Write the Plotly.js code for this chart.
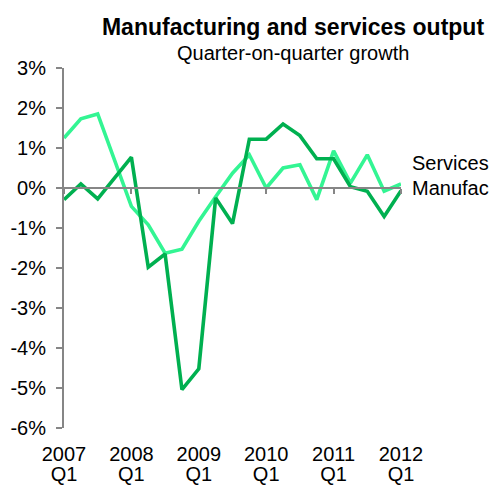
<!DOCTYPE html>
<html>
<head>
<meta charset="utf-8">
<script src="https://cdn.plot.ly/plotly-3.0.1.min.js"></script>
<style>html,body{margin:0;padding:0;background:#fff;}#chart{width:497px;height:486px;}</style>
</head>
<body>
<div id="chart"></div>
<script>
var quarters = ['2007 Q1','2007 Q2','2007 Q3','2007 Q4','2008 Q1','2008 Q2','2008 Q3','2008 Q4',
  '2009 Q1','2009 Q2','2009 Q3','2009 Q4','2010 Q1','2010 Q2','2010 Q3','2010 Q4',
  '2011 Q1','2011 Q2','2011 Q3','2011 Q4','2012 Q1'];
var manufacturing = [-0.29, 0.10, -0.27, 0.25, 0.77, -1.98, -1.65, -5.04, -4.52, -0.25, -0.89,
  1.22, 1.22, 1.60, 1.31, 0.73, 0.73, 0.03, -0.08, -0.71, -0.07];
var services = [1.25, 1.73, 1.85, 0.72, -0.46, -0.92, -1.63, -1.53, -0.83, -0.22, 0.37,
  0.83, 0.00, 0.50, 0.58, -0.29, 0.93, 0.12, 0.83, -0.08, 0.10];
var tickQuarters = ['2007 Q1','2008 Q1','2009 Q1','2010 Q1','2011 Q1','2012 Q1'];
var tickYearText = ['2007','2008','2009','2010','2011','2012'];
var tickQText = ['Q1','Q1','Q1','Q1','Q1','Q1'];
var yTickVals = [-6,-5,-4,-3,-2,-1,0,1,2,3];
var yTickText = ['-6%','-5%','-4%','-3%','-2%','-1%','0%','1%','2%','3%'];

var FONT = 'Liberation Sans, Arial, sans-serif';
var traces = [
  {x: quarters, y: services, type: 'scatter', mode: 'lines', name: 'Services',
   line: {color: '#33F593', width: 3.6}, xaxis: 'x', yaxis: 'y'},
  {x: quarters, y: manufacturing, type: 'scatter', mode: 'lines', name: 'Manufacturing',
   line: {color: '#00B050', width: 3.6}, xaxis: 'x', yaxis: 'y'},
  {x: quarters, y: manufacturing, type: 'scatter', mode: 'lines', showlegend: false,
   hoverinfo: 'skip', line: {width: 0}, opacity: 0, xaxis: 'x2', yaxis: 'y'},
  {x: quarters, y: manufacturing, type: 'scatter', mode: 'lines', showlegend: false,
   hoverinfo: 'skip', line: {width: 0}, opacity: 0, xaxis: 'x3', yaxis: 'y'}
];
var catAxis = function (extra) {
  var a = {type: 'category', categoryorder: 'array', categoryarray: quarters,
    range: [0, 20], showgrid: false, zeroline: false, tickmode: 'array',
    tickvals: tickQuarters, fixedrange: true};
  for (var k in extra) a[k] = extra[k];
  return a;
};
var layout = {
  width: 497, height: 486,
  margin: {l: 64, r: 95.6, t: 68, b: 58},
  paper_bgcolor: '#fff', plot_bgcolor: 'rgba(0,0,0,0)',
  showlegend: false,
  font: {family: FONT, size: 20, color: '#000'},
  title: {text: '<b>Manufacturing and services output</b>',
    font: {family: FONT, size: 23, color: '#000'},
    x: 293/497, xanchor: 'center', xref: 'container',
    y: 1 - 27/486, yanchor: 'middle', yref: 'container'},
  xaxis: catAxis({showline: false, ticks: '', ticktext: tickYearText,
    ticklabelstandoff: 12, tickfont: {family: FONT, size: 20, color: '#000'}}),
  xaxis2: catAxis({overlaying: 'x', matches: 'x', anchor: 'free', position: 2/3,
    showline: true, linecolor: '#868686', linewidth: 2,
    ticks: 'outside', ticklen: 5, tickwidth: 2, tickcolor: '#868686', showticklabels: false}),
  xaxis3: catAxis({overlaying: 'x', matches: 'x', anchor: 'y', side: 'bottom',
    showline: false, ticks: '', ticktext: tickQText,
    ticklabelstandoff: 32, tickfont: {family: FONT, size: 20, color: '#000'}}),
  yaxis: {range: [-6, 3], domain: [0, 1], showline: true, linecolor: '#868686', linewidth: 2,
    showgrid: false, zeroline: false, ticks: 'outside', ticklen: 6, tickwidth: 2,
    tickcolor: '#868686', tickmode: 'array', tickvals: yTickVals, ticktext: yTickText,
    ticklabelstandoff: 6, tickfont: {family: FONT, size: 20, color: '#000'}, fixedrange: true},
  annotations: [
    {text: 'Quarter-on-quarter growth', xref: 'paper', yref: 'paper',
     x: (293-64)/337.4, y: (428-53)/360, xanchor: 'center', yanchor: 'middle',
     showarrow: false, font: {family: FONT, size: 20, color: '#000'}},
    {text: 'Services', xref: 'paper', yref: 'paper',
     x: (410-64)/337.4, y: (428-163)/360, xanchor: 'left', yanchor: 'middle',
     showarrow: false, font: {family: FONT, size: 20, color: '#000'}},
    {text: 'Manufac', xref: 'paper', yref: 'paper',
     x: (410-64)/337.4, y: (428-188)/360, xanchor: 'left', yanchor: 'middle',
     showarrow: false, font: {family: FONT, size: 20, color: '#000'}}
  ]
};
Plotly.newPlot('chart', traces, layout, {staticPlot: true, displayModeBar: false});
</script>
</body>
</html>
